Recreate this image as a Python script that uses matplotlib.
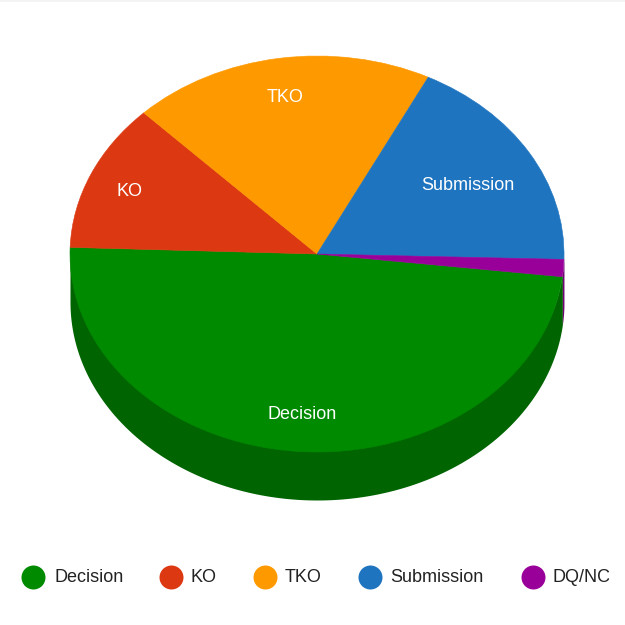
import numpy as np
import matplotlib
matplotlib.use("Agg")
import matplotlib.pyplot as plt
from matplotlib.patches import Rectangle

plt.rcParams['font.family'] = ['Liberation Sans', 'DejaVu Sans']

categories = ['Decision', 'KO', 'TKO', 'Submission', 'DQ/NC']
values = [48.7, 12.1, 19.8, 18.0, 1.4]
colors = ['#008a00', '#dc3912', '#ff9900', '#1f74c0', '#990099']
side_colors = ['#006400', '#a32a0d', '#bd7100', '#175590', '#710071']
start_angle = -6.6

W, H = 625, 625
CX, CY, RX, RY, DEPTH = 317, 254, 247, 198, 48


def dx(px):
    return (px - CX) / RX


def dy(py):
    return (CY - py) / RY


fig = plt.figure(figsize=(W / 100, H / 100), dpi=100, facecolor='white')
ax = fig.add_axes([0, 0, 1, 1])

# Side wall of the pie, from the slice angles (runs slightly under the top face)
depth = DEPTH / RY
overlap = 3 / RY
theta = start_angle
for v, sc in zip(values, side_colors):
    t0, t1 = theta, theta - v * 3.6
    theta = t1
    for shift in (0, 360):
        a = min(t0 + shift, 0)
        b = max(t1 + shift, -180)
        if a > b:
            t = np.radians(np.linspace(a, b, 200))
            ax.fill_between(np.cos(t), np.sin(t) + overlap, np.sin(t) - depth,
                            color=sc, linewidth=0)

wedges, _ = ax.pie(values, colors=colors, startangle=start_angle, counterclock=False,
                   radius=1, center=(0, 0), frame=True)
for w, c in zip(wedges, colors):
    w.set_edgecolor(c)
    w.set_linewidth(0.4)
ax.set_aspect('auto')
ax.set_xlim(dx(0), dx(W))
ax.set_ylim(dy(H), dy(0))
ax.axis('off')

# Slice labels
label_pos = [(302, 414.5), (129, 191.5), (285, 97.5), (468, 185.5)]
for name, (px, py) in zip(categories, label_pos):
    ax.text(dx(px), dy(py), name, color='white', fontsize=13,
            ha='center', va='center')

# Legend
marker_x = [33, 171, 265, 370, 533]
text_x = [55, 191, 285, 390.5, 552]
legend_y = 577
for name, c, mx, tx in zip(categories, colors, marker_x, text_x):
    ax.scatter([dx(mx)], [dy(legend_y)], s=(24 * 0.72) ** 2, color=c,
               linewidths=0, clip_on=False)
    ax.text(dx(tx), dy(legend_y + 1), name, color='#222222', fontsize=13,
            ha='left', va='center')

# Thin light strip along the top edge
fig.patches.append(Rectangle((0, 1 - 2 / H), 1, 2 / H, transform=fig.transFigure,
                             facecolor='#f3f3f3', edgecolor='none', figure=fig))

fig.savefig('out.png', dpi=100, facecolor='white')
